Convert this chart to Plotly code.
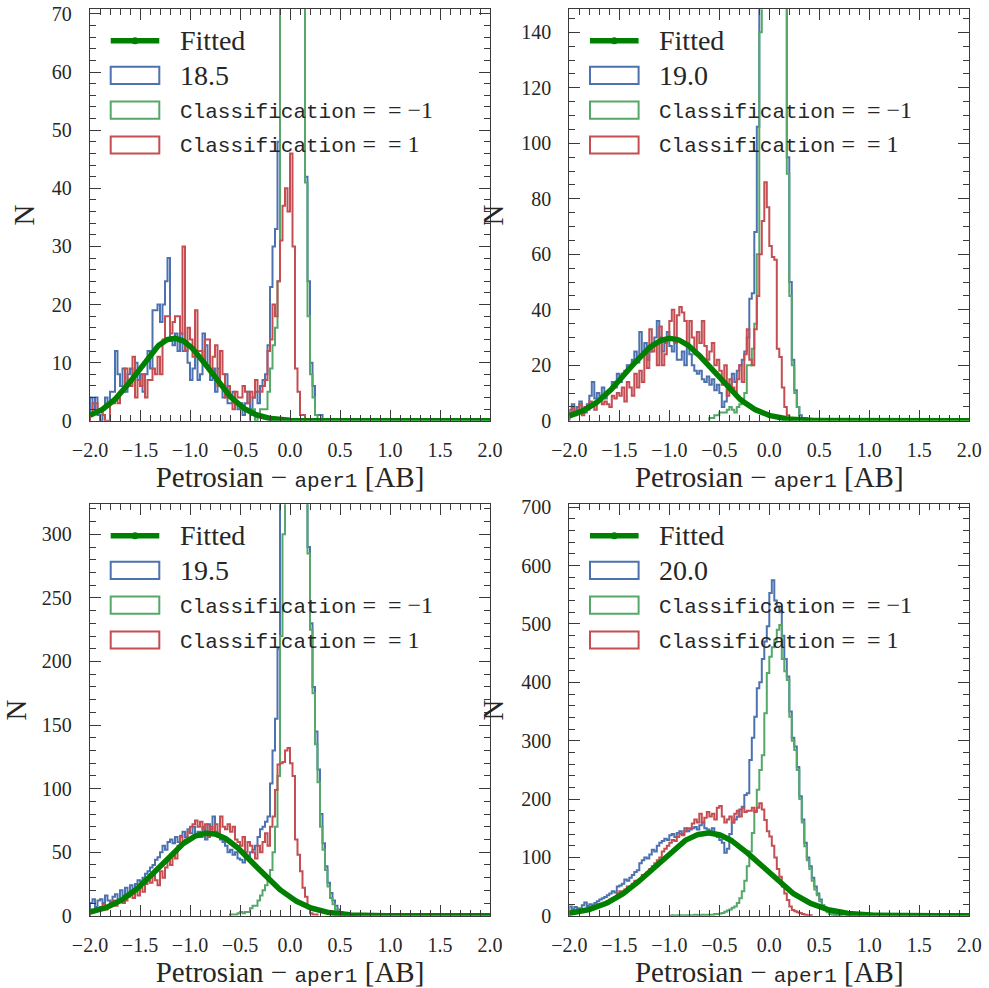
import numpy as np
import plotly.graph_objects as go

# ---------------------------------------------------------------------------
# Histogram counts of (Petrosian - aper1) per magnitude bin.
# Every series uses bins of width BIN_WIDTH starting at its *_start edge.
# ---------------------------------------------------------------------------
BIN_WIDTH = 0.025

magnitudes = ["18.5", "19.0", "19.5", "20.0"]

# ---- 18.5 ----
total_185_start = -2.0
total_185 = [4, 2, 4, 1, 0, 2, 4, 3, 5, 5, 12, 8, 6, 9, 5, 8,
             9, 7, 10, 7, 8, 5, 8, 12, 9, 19, 19, 20, 17, 20, 24, 28,
             14, 13, 15, 12, 15, 12, 13, 10, 7, 9, 11, 7, 8, 15, 13, 9,
             7, 9, 5, 9, 6, 4, 8, 3, 3, 5, 3, 2, 3, 1, 3, 5,
             2, 4, 5, 3, 6, 7, 8, 13, 23, 30, 33, 48, 110, 150, 170, 175,
             180, 160, 130, 110, 95, 80, 42, 24, 10, 6, 1, 1, 1]
neg_185_start = -0.4
neg_185 = [1, 2, 0, 1, 2, 2, 2, 5, 9, 13, 16, 24, 75, 110, 130, 140,
           135, 130, 120, 105, 94, 79, 41, 18, 8, 4, 1]
pos_185_start = -2.0
pos_185 = [1, 3, 3, 2, 2, 1, 0, 0, 3, 3, 4, 3, 5, 5, 9, 6,
           6, 11, 4, 7, 6, 8, 4, 7, 7, 9, 8, 11, 8, 14, 18, 18,
           15, 17, 18, 18, 15, 30, 12, 16, 14, 11, 19, 12, 12, 10, 14, 14,
           8, 11, 13, 6, 12, 8, 4, 6, 4, 2, 5, 4, 4, 6, 5, 3,
           5, 4, 7, 5, 5, 6, 7, 12, 14, 20, 18, 24, 31, 37, 40, 36,
           46, 30, 9, 5, 1, 1]

# ---- 19.0 ----
total_190_start = -2.0
total_190 = [4, 6, 3, 5, 7, 4, 3, 6, 9, 14, 8, 10, 9, 12, 8, 10,
             11, 14, 12, 17, 14, 17, 18, 20, 20, 22, 25, 21, 32, 25, 28, 22,
             25, 28, 30, 36, 30, 25, 28, 32, 27, 25, 30, 22, 22, 25, 20, 27,
             24, 20, 18, 17, 18, 15, 14, 16, 13, 15, 11, 13, 10, 5, 7, 11,
             13, 17, 14, 18, 20, 22, 25, 30, 44, 46, 68, 106, 200, 250, 280, 280,
             260, 245, 235, 191, 178, 162, 154, 95, 50, 22, 11, 5, 2, 1, 1]
neg_190_start = -0.6
neg_190 = [1, 1, 2, 2, 3, 3, 3, 4, 5, 4, 3, 5, 6, 8, 10, 20,
           20, 26, 35, 60, 140, 175, 195, 200, 195, 185, 175, 165,
           155, 150, 149, 89, 45, 20, 10, 5, 1, 1]
pos_190_start = -2.0
pos_190 = [3, 5, 2, 4, 6, 2, 5, 4, 7, 5, 4, 7, 8, 6, 7, 6,
           5, 9, 8, 10, 9, 12, 7, 14, 12, 9, 17, 12, 18, 14, 24, 19,
           33, 25, 28, 20, 34, 20, 24, 30, 36, 40, 28, 38, 41, 39, 36, 28,
           36, 30, 24, 32, 28, 36, 27, 22, 25, 28, 20, 22, 18, 13, 20, 9,
           15, 12, 10, 15, 20, 14, 24, 33, 22, 20, 33, 45, 60, 72, 86, 77,
           63, 59, 58, 26, 23, 12, 5, 2, 1]

# ---- 19.5 ----
total_195_start = -2.0
total_195 = [10, 13, 7, 12, 13, 10, 16, 12, 11, 15, 17, 13, 20, 16, 22, 18,
             24, 20, 25, 28, 27, 30, 33, 35, 38, 40, 44, 46, 50, 55, 52, 58,
             60, 57, 62, 58, 63, 66, 62, 68, 65, 70, 64, 66, 62, 70, 60, 72,
             68, 78, 66, 62, 60, 58, 55, 50, 52, 48, 50, 45, 44, 42, 48, 46,
             50, 52, 55, 62, 68, 70, 74, 78, 104, 130, 155, 210, 340, 420, 470, 490,
             500, 490, 470, 440, 400, 370, 330, 290, 230, 180, 145, 115,
             80, 57, 39, 26, 18, 12, 8, 5, 3, 2, 1, 1, 1, 0, 1, 1]
neg_195_start = -0.6
neg_195 = [1, 1, 1, 2, 3, 2, 3, 3, 6, 8, 8, 12, 16, 20, 24, 28,
           36, 50, 70, 110, 220, 300, 340, 360, 380, 380, 410, 390,
           365, 348, 325, 285, 225, 175, 135, 105, 70, 52, 36, 23,
           14, 9, 5, 3, 2, 1]
pos_195_start = -2.0
pos_195 = [5, 3, 6, 4, 7, 9, 5, 8, 10, 12, 8, 11, 14, 10, 12, 15,
           18, 14, 20, 16, 22, 19, 25, 28, 26, 32, 28, 24, 35, 30, 38, 44,
           40, 48, 45, 55, 62, 58, 60, 66, 70, 72, 75, 70, 74, 68, 72, 62,
           70, 65, 72, 63, 78, 70, 68, 72, 66, 70, 60, 58, 55, 62, 50, 58,
           55, 50, 45, 55, 50, 58, 65, 55, 70, 78, 99, 119, 120, 121, 130, 132,
           120, 110, 60, 48, 35, 22, 15, 6, 2, 1, 1]

# ---- 20.0 ----
total_200_start = -2.0
total_200 = [16, 11, 15, 13, 12, 18, 23, 17, 20, 18, 22, 25, 28, 30, 32, 35,
             38, 42, 40, 50, 52, 55, 62, 60, 65, 70, 75, 78, 90, 95, 100, 98,
             105, 113, 110, 120, 125, 128, 132, 130, 138, 140, 135, 142,
             145, 140, 150, 145, 148, 150, 152, 148, 155, 160, 150, 148,
             145, 150, 142, 135, 130, 125, 108, 115, 140, 160, 165, 170,
             182, 187, 207, 210, 267, 305, 341, 390, 400, 440, 470, 496,
             553, 575, 540, 530, 520, 480, 440, 410, 350, 305, 290, 255,
             205, 165, 125, 100, 85, 65, 50, 38, 28, 18, 12, 8, 5, 3, 2, 1, 1]
neg_200_start = -1.0
neg_200 = [0, 1, 0, 1, 1, 0, 1, 1, 1, 1, 2, 1, 1, 2, 1, 2,
           2, 2, 3, 3, 4, 5, 7, 9, 11, 14, 16, 22, 30, 42, 60, 85,
           110, 142, 180, 216, 250, 275, 347, 416, 444, 460, 473, 490,
           498, 440, 419, 404, 341, 300, 284, 250, 200, 160, 119, 95,
           80, 60, 45, 35, 25, 16, 10, 6, 3, 2, 1]
pos_200_start = -2.0
pos_200 = [5, 8, 6, 7, 8, 10, 9, 12, 12, 15, 14, 18, 20, 18, 22, 25,
           28, 30, 32, 38, 42, 40, 45, 50, 48, 55, 60, 58, 62, 70, 68, 75,
           80, 85, 90, 95, 100, 110, 115, 120, 125, 130, 128, 135,
           140, 138, 145, 150, 150, 158, 165, 160, 175, 160, 168, 178,
           170, 175, 165, 185, 188, 170, 160, 165, 170, 160, 175, 180,
           170, 185, 178, 180, 180, 185, 178, 185, 193, 182, 164, 145,
           136, 120, 100, 80, 67, 50, 38, 27, 16, 10, 8, 6, 5, 3, 2, 1, 1]

# Gaussian fit parameters (amplitude, centre, width) for each magnitude
fit_amp = [14.2, 29.7, 65.0, 142.0]
fit_mu = [-1.16, -0.99, -0.82, -0.61]
fit_sigma = [0.36, 0.425, 0.475, 0.525]

# y-axis limits and tick spacing per panel
y_top = [70.8, 148.3, 323.6, 705.0]
y_major = [10, 20, 50, 100]
y_minor = [2, 5, 10, 20]

series = [
    [(total_185, total_185_start), (neg_185, neg_185_start), (pos_185, pos_185_start)],
    [(total_190, total_190_start), (neg_190, neg_190_start), (pos_190, pos_190_start)],
    [(total_195, total_195_start), (neg_195, neg_195_start), (pos_195, pos_195_start)],
    [(total_200, total_200_start), (neg_200, neg_200_start), (pos_200, pos_200_start)],
]

# ---------------------------------------------------------------------------
# Styling
# ---------------------------------------------------------------------------
BLUE, GREEN, RED = "#4C72B0", "#55A868", "#C44E52"
FIT_COLOR = "#008000"
FRAME = "#3a3a3a"
TEXT = "#262626"
SERIF = "Liberation Serif"
MONO = "Liberation Mono"

W, H = 989, 988
PANEL_W, PANEL_H = 400.0, 411.5
# top-left corner (px) of each plotting frame
frames = [(90.0, 9.3), (569.3, 9.3), (90.0, 504.3), (569.3, 504.3)]


def px_x(px):
    return px / W


def px_y(py):
    return 1 - py / H


def step_outline(counts, start):
    """Outline of a step histogram: edges with a drop to zero at both ends."""
    counts = np.asarray(counts, dtype=float)
    edges = start + BIN_WIDTH * np.arange(len(counts) + 1)
    xs = np.concatenate([[edges[0]], edges])
    ys = np.concatenate([[0.0], counts, [0.0]])
    return xs, ys


fig = go.Figure()
layout = {}
shapes = []
annotations = []

MATH_EQ = "<span style=\"font-family:Liberation Serif;font-size:24px\">\u00a0=\u00a0\u00a0=\u00a0{}</span>"

for i in range(4):
    suffix = "" if i == 0 else str(i + 1)
    xa, ya = "x" + suffix, "y" + suffix
    left, top = frames[i]

    for (counts, start), color in zip(series[i], [BLUE, GREEN, RED]):
        xs, ys = step_outline(counts, start)
        fig.add_trace(go.Scatter(
            x=xs, y=ys, mode="lines",
            line=dict(color=color, width=2, shape="hv"),
            xaxis=xa, yaxis=ya, showlegend=False, hoverinfo="skip"))

    xf = np.linspace(-2.0, 2.0, 401)
    yf = fit_amp[i] * np.exp(-0.5 * ((xf - fit_mu[i]) / fit_sigma[i]) ** 2)
    fig.add_trace(go.Scatter(
        x=xf, y=yf, mode="lines", line=dict(color=FIT_COLOR, width=5.5),
        xaxis=xa, yaxis=ya, showlegend=False, hoverinfo="skip"))

    common = dict(
        showline=True, linecolor=FRAME, linewidth=1.3, mirror="ticks",
        ticks="inside", ticklen=11, tickwidth=1.2, tickcolor=FRAME,
        showgrid=False, zeroline=False, automargin=False,
        tickfont=dict(family=SERIF, size=20, color=TEXT),
    )
    layout["xaxis" + suffix] = dict(
        common,
        domain=[px_x(left), px_x(left + PANEL_W)],
        anchor=ya, range=[-2.0, 2.0], tick0=-2.0, dtick=0.5, tickformat=".1f",
        minor=dict(ticks="inside", dtick=0.1, ticklen=6, tickwidth=1.0, tickcolor=FRAME),
        ticklabelstandoff=11,
        title=dict(
            text="Petrosian − <span style=\"font-family:Liberation Mono;font-size:21px\">aper1</span> [AB]",
            font=dict(family=SERIF, size=29, color=TEXT), standoff=6),
    )
    layout["yaxis" + suffix] = dict(
        common,
        domain=[px_y(top + PANEL_H), px_y(top)],
        anchor=xa, range=[0, y_top[i]], tick0=0, dtick=y_major[i],
        minor=dict(ticks="inside", dtick=y_minor[i], ticklen=6, tickwidth=1.0, tickcolor=FRAME),
        ticklabelstandoff=13,
        title=dict(text="N", font=dict(family=SERIF, size=29, color=TEXT), standoff=8),
    )

    # legend drawn inside the upper-left corner of each panel
    kx0, kx1 = left + 20.7, left + 69.3
    fy = top + 31.4
    shapes.append(dict(type="line", xref="paper", yref="paper",
                       x0=px_x(kx0), x1=px_x(kx1), y0=px_y(fy), y1=px_y(fy),
                       line=dict(color=FIT_COLOR, width=5.5)))
    cx = (kx0 + kx1) / 2
    shapes.append(dict(type="circle", xref="paper", yref="paper",
                       x0=px_x(cx - 3.5), x1=px_x(cx + 3.5), y0=px_y(fy + 3.5), y1=px_y(fy - 3.5),
                       fillcolor=FIT_COLOR, line=dict(color=FIT_COLOR, width=0)))
    annotations.append(dict(xref="paper", yref="paper", x=px_x(left + 88), y=px_y(fy),
                            xanchor="left", yanchor="middle", showarrow=False,
                            text="Fitted", font=dict(family=SERIF, size=28, color=TEXT)))

    rows = [
        (BLUE, magnitudes[i], dict(family=SERIF, size=28, color=TEXT)),
        (GREEN, "Classification" + MATH_EQ.format("−1"), dict(family=MONO, size=21, color=TEXT)),
        (RED, "Classification" + MATH_EQ.format("1"), dict(family=MONO, size=21, color=TEXT)),
    ]
    for k, (color, label, font) in enumerate(rows):
        cy = top + 66.0 + 34.85 * k
        shapes.append(dict(type="rect", xref="paper", yref="paper",
                           x0=px_x(kx0), x1=px_x(kx1), y0=px_y(cy + 8.6), y1=px_y(cy - 8.6),
                           line=dict(color=color, width=2), fillcolor="rgba(0,0,0,0)"))
        annotations.append(dict(xref="paper", yref="paper", x=px_x(left + 88), y=px_y(cy),
                                xanchor="left", yanchor="middle", showarrow=False,
                                text=label, font=font))

fig.update_layout(
    width=W, height=H,
    margin=dict(l=0, r=0, t=0, b=0),
    paper_bgcolor="white", plot_bgcolor="white",
    showlegend=False,
    shapes=shapes, annotations=annotations,
    **layout,
)

fig.write_html("out.html")
